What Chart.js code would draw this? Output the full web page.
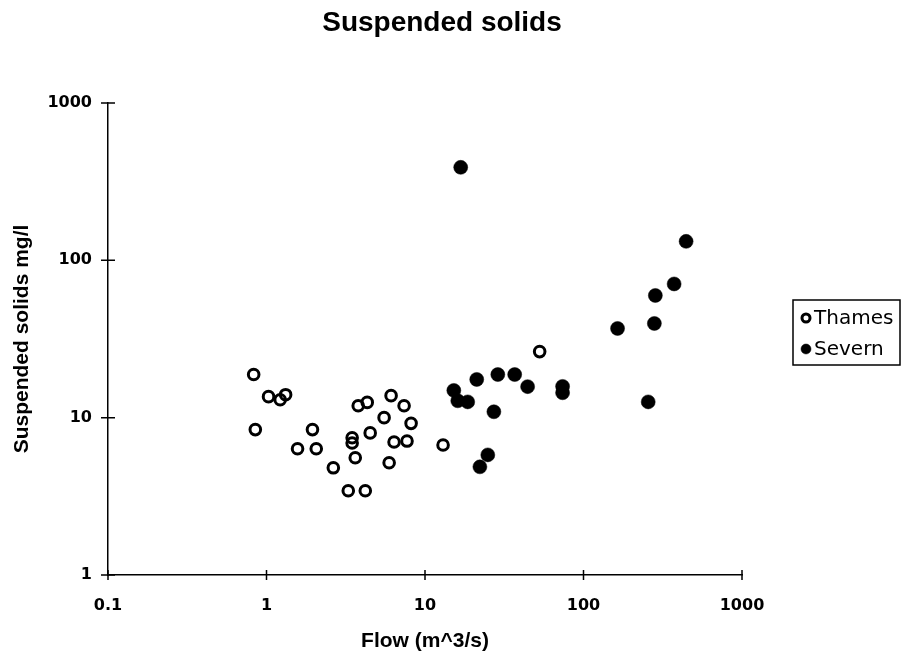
<!DOCTYPE html>
<html>
<head>
<meta charset="utf-8">
<title>Suspended solids</title>
<script src="https://cdn.jsdelivr.net/npm/chart.js@4.4.1/dist/chart.umd.min.js"></script>
<style>
  html, body { margin: 0; padding: 0; background: #fff; }
  #wrap { width: 902px; height: 659px; }
</style>
</head>
<body>
<div id="wrap"><canvas id="chart"></canvas></div>
<script>
// Suspended solids vs river flow, Thames and Severn, both axes logarithmic.

const xTicks = [0.1, 1, 10, 100, 1000];
const xTickLabels = ["0.1", "1", "10", "100", "1000"];
const yTicks = [1, 10, 100, 1000];
const yTickLabels = ["1", "10", "100", "1000"];

// Thames samples: flow (m^3/s) and suspended solids (mg/l)
const thamesFlow = [0.83, 1.03, 1.22, 1.32, 0.85, 1.57, 1.95, 2.06, 2.64, 3.28, 4.2, 3.47, 3.47,
                    3.63, 3.79, 4.32, 4.51, 5.52, 6.11, 7.38, 8.17, 6.38, 7.7, 5.94, 13.0, 52.9];
const thamesSolids = [18.8, 13.6, 13.0, 14.0, 8.4, 6.35, 8.4, 6.35, 4.8, 3.43, 3.43, 7.46, 6.9,
                      5.56, 11.9, 12.5, 8.0, 10.0, 13.8, 11.9, 9.2, 7.0, 7.1, 5.17, 6.7, 26.3];

// Severn samples
const severnFlow = [16.8, 444, 373, 284, 280, 164, 15.2, 16.1, 18.6, 21.2, 28.8, 36.8, 44.4,
                    73.8, 73.8, 27.2, 256, 24.9, 22.2];
const severnSolids = [390, 132, 70.8, 59.8, 39.7, 36.9, 14.9, 12.8, 12.6, 17.5, 18.8, 18.8, 15.75,
                      15.8, 14.4, 10.9, 12.6, 5.8, 4.87];

const pairs = (xs, ys) => xs.map((x, i) => ({ x, y: ys[i] }));

const BOLD = "'Liberation Sans', Arial, sans-serif";
const REG = "'DejaVu Sans', sans-serif";

// tick marks that cross the axis line, like the original
const crossTicks = {
  id: "crossTicks",
  afterDraw(chart) {
    const { ctx, scales: { x, y } } = chart;
    ctx.save();
    ctx.strokeStyle = "#000";
    ctx.lineWidth = 1.5;
    ctx.beginPath();
    x.ticks.forEach((t) => {
      const px = x.getPixelForValue(t.value);
      ctx.moveTo(px, x.top - 5);
      ctx.lineTo(px, x.top + 5);
    });
    y.ticks.forEach((t) => {
      const py = y.getPixelForValue(t.value);
      ctx.moveTo(y.right - 7, py);
      ctx.lineTo(y.right + 7, py);
    });
    ctx.stroke();
    ctx.restore();
  },
};

// boxed legend to the right of the plot
const boxLegend = {
  id: "boxLegend",
  afterDraw(chart) {
    const { ctx, chartArea } = chart;
    const left = chartArea.right + 51, top = 300, w = 107, h = 65;
    ctx.save();
    ctx.strokeStyle = "#000";
    ctx.lineWidth = 1.5;
    ctx.strokeRect(left, top, w, h);
    ctx.font = `20px ${REG}`;
    ctx.textBaseline = "middle";
    chart.data.datasets.forEach((ds, i) => {
      const cy = top + 18 + i * 31;
      ctx.beginPath();
      ctx.arc(left + 13, cy, ds.legendRadius, 0, Math.PI * 2);
      ctx.lineWidth = ds.borderWidth;
      ctx.fillStyle = ds.backgroundColor;
      ctx.fill();
      ctx.stroke();
      ctx.fillStyle = "#000";
      ctx.fillText(ds.label, left + 21, cy + 1);
    });
    ctx.restore();
  },
};

// the title sits a little left of canvas centre in the original
const placeTitle = {
  id: "placeTitle",
  afterLayout(chart) {
    chart.titleBlock.left = 0;
    chart.titleBlock.right = 884;
  },
};

new Chart(document.getElementById("chart"), {
  type: "scatter",
  data: {
    datasets: [
      {
        label: "Thames", data: pairs(thamesFlow, thamesSolids),
        pointStyle: "circle", pointRadius: 5.3, borderWidth: 3,
        borderColor: "#000", backgroundColor: "rgba(0,0,0,0)", legendRadius: 4,
      },
      {
        label: "Severn", data: pairs(severnFlow, severnSolids),
        pointStyle: "circle", pointRadius: 7, borderWidth: 0.5,
        borderColor: "#000", backgroundColor: "#000", legendRadius: 5,
      },
    ],
  },
  options: {
    responsive: true, maintainAspectRatio: false, animation: false, events: [],
    layout: { padding: { left: 0, right: 160, top: 0, bottom: 0 } },
    plugins: {
      legend: { display: false },
      tooltip: { enabled: false },
      title: {
        display: true, text: "Suspended solids", color: "#000",
        font: { family: BOLD, weight: "bold", size: 28 },
        padding: { top: 6, bottom: 63.4 },
      },
    },
    scales: {
      x: {
        type: "logarithmic", min: 0.1, max: 1000,
        afterBuildTicks: (s) => { s.ticks = xTicks.map((v) => ({ value: v })); },
        afterFit: (s) => { s.height = 84; },
        ticks: {
          callback: (v, i) => xTickLabels[i], color: "#000", autoSkip: false, maxRotation: 0,
          font: { family: REG, weight: "bold", size: 16 }, padding: 13,
        },
        grid: { display: false },
        border: { display: true, color: "#000", width: 1.5 },
        title: {
          display: true, text: "Flow (m^3/s)", color: "#000",
          font: { family: BOLD, weight: "bold", size: 21 }, padding: { top: 0, bottom: 5 },
        },
      },
      y: {
        type: "logarithmic", min: 1, max: 1000,
        afterBuildTicks: (s) => { s.ticks = yTicks.map((v) => ({ value: v })); },
        afterFit: (s) => { s.width = 108; },
        ticks: {
          callback: (v, i) => yTickLabels[i], color: "#000", autoSkip: false,
          font: { family: REG, weight: "bold", size: 16 }, padding: 8,
        },
        grid: { display: false },
        border: { display: true, color: "#000", width: 1.5 },
        title: {
          display: true, text: "Suspended solids mg/l", color: "#000",
          font: { family: BOLD, weight: "bold", size: 21 }, padding: { top: 10, bottom: 0 },
        },
      },
    },
  },
  plugins: [crossTicks, boxLegend, placeTitle],
});
</script>
</body>
</html>
